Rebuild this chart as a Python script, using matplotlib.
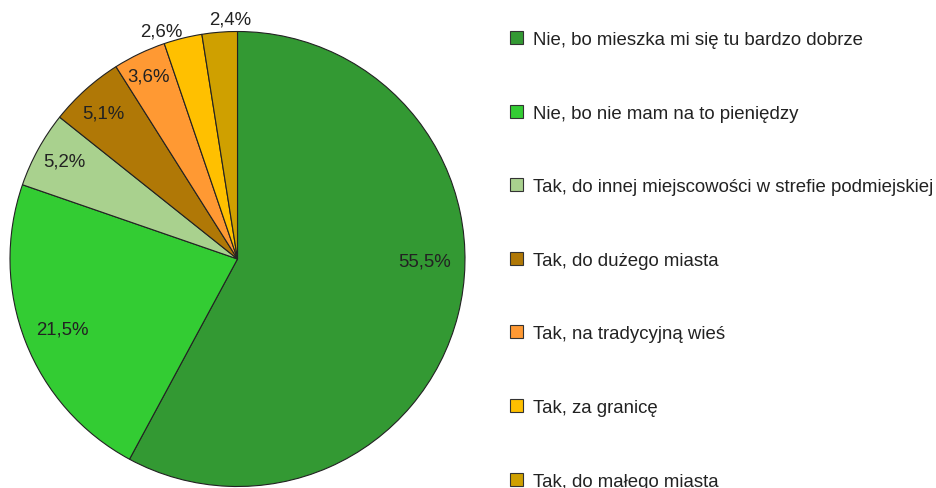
import matplotlib.pyplot as plt
from matplotlib.patches import Patch

# Dane
categories = ["Nie, bo mieszka mi się tu bardzo dobrze",
              "Nie, bo nie mam na to pieniędzy",
              "Tak, do innej miejscowości w strefie podmiejskiej",
              "Tak, do dużego miasta",
              "Tak, na tradycyjną wieś",
              "Tak, za granicę",
              "Tak, do małego miasta"]
values = [55.5, 21.5, 5.2, 5.1, 3.6, 2.6, 2.4]
labels = ["55,5%", "21,5%", "5,2%", "5,1%", "3,6%", "2,6%", "2,4%"]

colors = ["#339933", "#33cc33", "#a9d18e", "#b07806", "#ff9933", "#ffc000", "#cfa000"]
# pozycje etykiet (w promieniach kola)
label_pos = [(0.824, -0.009), (-0.771, -0.308), (-0.763, 0.431), (-0.589, 0.642),
             (-0.389, 0.804), (-0.334, 1.002), (-0.031, 1.055)]

plt.rcParams['font.family'] = ['Liberation Sans', 'DejaVu Sans']
fs = 13.4

W, H = 937, 489
fig = plt.figure(figsize=(W / 100, H / 100), dpi=100)
cx, cy, r = 237.5, 260, 227.5
ax = fig.add_axes([(cx - r) / W, (H - cy - r) / H, 2 * r / W, 2 * r / H])

wedges, _ = ax.pie(values, colors=colors, startangle=90, counterclock=False,
                   wedgeprops=dict(edgecolor="#222222", linewidth=0.8))
ax.set_xlim(-1, 1)
ax.set_ylim(-1, 1)
ax.set_aspect('equal')
ax.axis('off')

for lab, (x, y) in zip(labels, label_pos):
    ax.text(x, y, lab, ha='center', va='center', fontsize=fs, color="#222222")

handles = [Patch(facecolor=c, edgecolor="#333333", linewidth=0.8) for c in colors]
fig.legend(handles, categories, loc='upper left', bbox_to_anchor=(510 / W, 1 - 32 / H),
           frameon=False, fontsize=fs, labelspacing=3.04, handlelength=0.7,
           handleheight=0.7, handletextpad=0.55, borderpad=0, borderaxespad=0,
           labelcolor="#222222")

fig.savefig("out.png", dpi=100)
